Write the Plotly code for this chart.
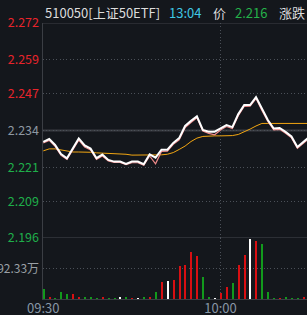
import plotly.graph_objects as go

# ---------------- data ----------------
prev_close = 2.234
minutes = list(range(46))  # minute offset from 09:30
price = [2.2300, 2.2310, 2.2289, 2.2257, 2.2242, 2.2278, 2.2312, 2.2287, 2.2276, 2.2242,
         2.2255, 2.2236, 2.2230, 2.2230, 2.2222, 2.2230, 2.2230, 2.2221, 2.2256, 2.2244,
         2.2272, 2.2272, 2.2296, 2.2313, 2.2356, 2.2374, 2.2390, 2.2342, 2.2336, 2.2336,
         2.2348, 2.2359, 2.2352, 2.2398, 2.2430, 2.2430, 2.2458, 2.2416, 2.2377, 2.2347,
         2.2349, 2.2335, 2.2319, 2.2282, 2.2301, 2.2317]
shadow = [2.2296, 2.2305, 2.2284, 2.2252, 2.2238, 2.2272, 2.2306, 2.2282, 2.2271, 2.2238,
          2.2250, 2.2232, 2.2227, 2.2227, 2.2219, 2.2226, 2.2226, 2.2217, 2.2250, 2.2222,
          2.2266, 2.2267, 2.2291, 2.2307, 2.2350, 2.2368, 2.2385, 2.2338, 2.2330, 2.2325,
          2.2342, 2.2354, 2.2347, 2.2392, 2.2425, 2.2426, 2.2453, 2.2411, 2.2372, 2.2342,
          2.2344, 2.2330, 2.2314, 2.2277, 2.2296, 2.2312]
avg_price = [2.2268, 2.2275, 2.2275, 2.2271, 2.2266, 2.2264, 2.2264, 2.2264, 2.2263, 2.2261,
             2.2260, 2.2259, 2.2259, 2.2258, 2.2256, 2.2253, 2.2253, 2.2253, 2.2253, 2.2253,
             2.2254, 2.2256, 2.2262, 2.2273, 2.2285, 2.2301, 2.2313, 2.2319, 2.2321, 2.2321,
             2.2321, 2.2321, 2.2322, 2.2326, 2.2335, 2.2345, 2.2356, 2.2365, 2.2365, 2.2365,
             2.2365, 2.2365, 2.2365, 2.2365, 2.2365, 2.2365]
volume = [32, 7, 3, 22, 15, 15, 7, 5, 5, 3, 5, 3, 3, 6, 6, 2, 2, 7, 7, 21,
          53, 55, 58, 102, 105, 145, 132, 68, 6, 3, 18, 37, 49, 105, 135, 184, 179, 169, 22, 3,
          3, 6, 3, 3, 6]
price_ticks = [2.196, 2.209, 2.221, 2.234, 2.247, 2.259, 2.272]
vol_tick = 92.33
time_ticks = [0, 30]
time_labels = ["09:30", "10:00"]

# ---------------- styles ----------------
W, H = 307, 315
BG = "#14171c"
RED, GREEN, FLAT = "#e8242b", "#1fae4a", "#8e98a2"
BAR_RED, BAR_GREEN, BAR_FLAT = "#d80f12", "#129a1c", "#ffffff"
FONT = "Noto Sans CJK SC"

def py(px):
    return 1 - px / H

bar_colors = []
for i, v in enumerate(volume):
    ref = prev_close if i == 0 else price[i - 1]
    if price[i] > ref:
        bar_colors.append(BAR_RED)
    elif price[i] < ref:
        bar_colors.append(BAR_GREEN)
    else:
        bar_colors.append(BAR_FLAT)

def tcol(v):
    if v > prev_close + 1e-9:
        return RED
    if v < prev_close - 1e-9:
        return GREEN
    return FLAT

price_text = [f'<span style="color:{tcol(v)}">{v:.3f}</span>' for v in price_ticks]

fig = go.Figure()
fig.add_trace(go.Bar(x=minutes[:len(volume)], y=volume, marker_color=bar_colors,
                     marker_line_width=0, width=0.22, xaxis="x", yaxis="y"))
fig.add_trace(go.Scatter(x=minutes, y=avg_price, mode="lines",
                         line=dict(color="#f2a612", width=1), xaxis="x", yaxis="y2"))
fig.add_trace(go.Scatter(x=minutes, y=shadow, mode="lines",
                         line=dict(color="#f08a8a", width=1.2), xaxis="x", yaxis="y2"))
fig.add_trace(go.Scatter(x=minutes, y=price, mode="lines",
                         line=dict(color="#ffffff", width=2), xaxis="x", yaxis="y2"))

DOT = "1px,2.4px"
GRID = "#4b5058"
LINE = "#3b3e44"

fig.update_layout(
    template="none",
    width=W, height=H, margin=dict(l=0, r=0, t=0, b=0, pad=0),
    paper_bgcolor=BG, plot_bgcolor=BG, showlegend=False, bargap=0,
    font=dict(family=FONT, size=12, color="#9aa0a6"),
    xaxis=dict(domain=[42.5 / W, 1], range=[-0.135, 44.63], anchor="y",
               automargin=False,
               tickvals=time_ticks, ticktext=time_labels, ticks="",
               tickfont=dict(size=13, color="#8796a5", family=FONT),
               ticklabelstandoff=-3,
               showgrid=True, gridcolor=GRID, griddash=DOT, gridwidth=1,
               showline=True, linecolor=LINE, linewidth=1, zeroline=False),
    yaxis=dict(domain=[py(299), py(238)], range=[0, 187.7], anchor="x",
               automargin=False,
               tickvals=[vol_tick], ticktext=[f"{vol_tick:.2f}万"], ticks="",
               tickfont=dict(size=12, color="#9aa0a6", family=FONT),
               showgrid=True, gridcolor=GRID, griddash=DOT, gridwidth=1,
               showline=True, linecolor=LINE, linewidth=1, zeroline=False),
    yaxis2=dict(domain=[py(238), py(23)], range=[2.196, 2.272], anchor="x",
                automargin=False,
                tickvals=price_ticks, ticktext=price_text, ticks="",
                tickfont=dict(size=12.5, family=FONT),
                showgrid=True, gridcolor=GRID, griddash=DOT, gridwidth=1,
                showline=True, linecolor=LINE, linewidth=1, zeroline=False),
)

# solid reference lines
for yv, wdt, col in [(2.272, 1, "#3e4147"), (prev_close, 2, "#3a3d42"), (2.196, 1, "#45484e")]:
    fig.add_shape(type="line", xref="paper", yref="y2", x0=42.5 / W, x1=1, y0=yv, y1=yv,
                  line=dict(color=col, width=wdt), layer="below")

# header
header = [("510050[上证50ETF]", 43, "#dcdcdc"), ("13:04", 167, "#3fc7e3"),
          ("价", 211, "#dcdcdc"), ("2.216", 233, "#25b24a"), ("涨跌", 277, "#dcdcdc")]
for txt, x0, col in header:
    fig.add_annotation(text=txt, x=x0 / W, y=py(13), xref="paper", yref="paper",
                       xanchor="left", yanchor="middle", showarrow=False,
                       font=dict(size=13, color=col, family=FONT))

fig.write_html("out.html")
